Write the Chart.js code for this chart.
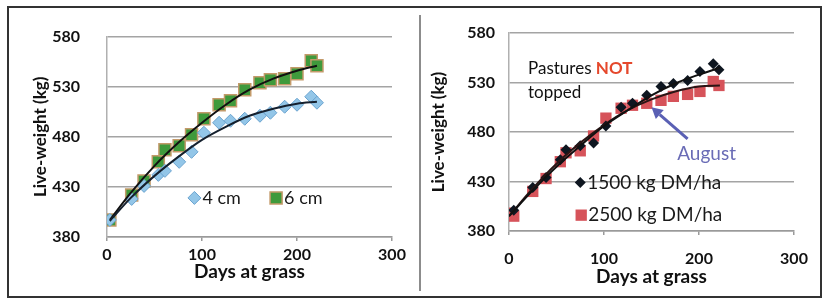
<!DOCTYPE html>
<html><head><meta charset="utf-8">
<script src="https://cdn.jsdelivr.net/npm/chart.js@4.4.1/dist/chart.umd.min.js"></script>
<style>
html,body{margin:0;padding:0;background:#fff;width:831px;height:305px;overflow:hidden;font-family:Lato,sans-serif}
#frame{position:absolute;left:7px;top:6px;width:811px;height:288px;border:2px solid #333;}
#divider{position:absolute;left:419px;top:15px;width:2px;height:276px;background:#8c8c8c;}
#c1{position:absolute;left:0;top:0}
#c2{position:absolute;left:418px;top:0}
</style></head><body>
<div id="frame"></div><div id="divider"></div>
<canvas id="c1" width="418" height="305"></canvas>
<canvas id="c2" width="413" height="305"></canvas>
<script>
// ---- Left chart data (sward height) ----
const daysLeft = [3, 26, 39, 54, 61, 76, 89, 102, 118, 130, 145, 161, 172, 187, 200, 215, 221];
const weight4cm = [397, 418, 431, 442, 446, 455, 465, 484, 494, 496, 498, 501, 504, 510, 512, 520, 514];
const weight6cm = [397, 422, 436, 455, 467, 471, 482, 498, 512, 516, 527, 534, 537, 538, 543, 556, 551];
const trendDaysLeft = [3, 25, 50, 75, 100, 125, 150, 175, 200, 221];
const trend4cm = [396, 419, 441, 460, 477, 490, 501, 508, 513, 515];
const trend6cm = [397, 424, 451, 474, 494, 512, 527, 538, 546, 551];
const labelsLeft = ["4 cm", "6 cm"];

// ---- Right chart data (pre-grazing cover) ----
const days1500 = [5, 25, 39, 54, 60, 75, 89, 102, 118, 130, 145, 160, 173, 188, 201, 215, 221];
const weight1500 = [401, 424, 434, 452, 462, 466, 469, 486, 505, 509, 517, 526, 529, 532, 541, 549, 543];
const days2500 = [0, 5, 25, 39, 54, 60, 75, 89, 102, 118, 130, 145, 160, 173, 188, 201, 215, 221];
const weight2500 = [398, 395, 420, 433, 450, 459, 461, 476, 494, 504, 507, 509, 512, 516, 518, 521, 531, 527];
const trendDaysRight = [0, 25, 50, 75, 100, 125, 150, 175, 200, 222];
const trend1500 = [395, 421, 445, 466, 486, 502, 517, 529, 538, 545];
const trend2500 = [395, 423, 448, 469, 487, 502, 513, 521, 526, 527];
const labelsRight = ["1500 kg DM/ha", "2500 kg DM/ha"];

// ---- Axes ----
const xTicks = [0, 100, 200, 300];
const yTicks = [380, 430, 480, 530, 580];
const xTitle = "Days at grass";
const yTitle = "Live-weight (kg)";

const pts = (xs, ys) => xs.map((x, i) => ({x, y: ys[i]}));

function shape(ctx, style, x, y, r, fill, stroke, bw) {
  ctx.save();
  ctx.beginPath();
  if (style === 'rectRot') {
    ctx.moveTo(x, y - r); ctx.lineTo(x + r, y); ctx.lineTo(x, y + r); ctx.lineTo(x - r, y); ctx.closePath();
  } else {
    const s = r * Math.SQRT1_2;
    ctx.rect(x - s, y - s, 2 * s, 2 * s);
  }
  ctx.fillStyle = fill; ctx.fill();
  if (bw) { ctx.lineWidth = bw; ctx.strokeStyle = stroke; ctx.stroke(); }
  ctx.restore();
}

function annotPlugin(cfg) {
  return {
    id: 'annot',
    afterDatasetsDraw(chart) {
      const ctx = chart.ctx, xs = chart.scales.x, ys = chart.scales.y;
      ctx.save();
      (cfg.legend || []).forEach(it => {
        const ds = chart.data.datasets[it.ds];
        const px = xs.getPixelForValue(it.x), py = ys.getPixelForValue(it.y);
        shape(ctx, ds.pointStyle, px, py, ds.pointRadius, ds.backgroundColor, ds.borderColor, ds.borderWidth);
        ctx.font = it.font; ctx.fillStyle = '#1a1a1a'; ctx.textAlign = 'left'; ctx.textBaseline = 'middle';
        ctx.fillText(it.label, px + it.gap, py);
      });
      (cfg.texts || []).forEach(t => {
        let px = xs.getPixelForValue(t.x); const py = ys.getPixelForValue(t.y);
        ctx.textBaseline = 'middle'; ctx.textAlign = t.align || 'left';
        t.parts.forEach(p => {
          ctx.font = p.font; ctx.fillStyle = p.color;
          ctx.fillText(p.text, px, py);
          px += ctx.measureText(p.text).width;
        });
      });
      (cfg.arrows || []).forEach(a => {
        const x1 = xs.getPixelForValue(a.from[0]), y1 = ys.getPixelForValue(a.from[1]);
        const x2 = xs.getPixelForValue(a.to[0]), y2 = ys.getPixelForValue(a.to[1]);
        const ang = Math.atan2(y2 - y1, x2 - x1), hl = 11, hw = 6;
        const bx = x2 - hl * Math.cos(ang), by = y2 - hl * Math.sin(ang);
        ctx.strokeStyle = a.color; ctx.fillStyle = a.color; ctx.lineWidth = 3;
        ctx.beginPath(); ctx.moveTo(x1, y1); ctx.lineTo(bx, by); ctx.stroke();
        ctx.beginPath(); ctx.moveTo(x2, y2);
        ctx.lineTo(bx + hw * Math.sin(ang), by - hw * Math.cos(ang));
        ctx.lineTo(bx - hw * Math.sin(ang), by + hw * Math.cos(ang));
        ctx.closePath(); ctx.fill();
      });
      ctx.restore();
    }
  };
}

const tickFont = {family: 'Lato', size: 16, weight: 'bold'};
const xTitleFont = {family: 'Lato', size: 19, weight: 'bold'};
const yTitleFont = {family: 'Lato', size: 17, weight: 'bold'};

function makeScales(o) {
  return {
    x: {
      type: 'linear', min: 0, max: 300,
      afterBuildTicks: s => { s.ticks = xTicks.map(v => ({value: v})); },
      afterFit: s => { s.height = o.xH; },
      ticks: {font: tickFont, color: '#111', padding: o.xPad, maxRotation: 0},
      grid: {drawOnChartArea: false, drawTicks: true, tickLength: 4, color: '#9a9a9a', lineWidth: 1.5},
      border: {color: '#9a9a9a', width: 1.5},
      title: {display: true, text: xTitle, font: xTitleFont, color: '#111', padding: {top: 0, bottom: o.xTitlePad}}
    },
    y: {
      type: 'linear', min: 380, max: 580,
      afterBuildTicks: s => { s.ticks = yTicks.map(v => ({value: v})); },
      afterFit: s => { s.width = o.yW; },
      ticks: {font: tickFont, color: '#111', padding: o.yPad},
      grid: {drawTicks: false, color: '#a4a4a4', lineWidth: 1.5},
      border: {color: '#b0b0b0', width: 1.5},
      title: {display: true, text: yTitle, font: yTitleFont, color: '#111', padding: {top: o.yTitlePad, bottom: 0}}
    }
  };
}

const common = {
  responsive: false, animation: false, devicePixelRatio: 1,
  plugins: {legend: {display: false}, tooltip: {enabled: false}}
};

// Left chart
new Chart(document.getElementById('c1'), {
  type: 'scatter',
  data: {datasets: [
    {type: 'line', data: pts(trendDaysLeft, trend4cm), borderColor: '#15202e', borderWidth: 2, pointRadius: 0, fill: false, cubicInterpolationMode: 'monotone'},
    {type: 'line', data: pts(trendDaysLeft, trend6cm), borderColor: '#111', borderWidth: 2, pointRadius: 0, fill: false, cubicInterpolationMode: 'monotone'},
    {label: labelsLeft[0], data: pts(daysLeft, weight4cm), pointStyle: 'rectRot', pointRadius: 6.5, backgroundColor: '#93c6e8', borderColor: '#6aa3cf', borderWidth: 1},
    {label: labelsLeft[1], data: pts(daysLeft, weight6cm), pointStyle: 'rect', pointRadius: 8.5, backgroundColor: '#3f9a3c', borderColor: '#c39a6a', borderWidth: 1.5}
  ]},
  options: Object.assign({}, common, {
    layout: {padding: {left: 20, right: 26, top: 30, bottom: 14}},
    scales: makeScales({xH: 54, xPad: 4, xTitlePad: 7.5, yW: 87, yPad: 27, yTitlePad: 10.8})
  }),
  plugins: [annotPlugin({
    legend: [
      {ds: 2, x: 92, y: 419, label: labelsLeft[0], gap: 8, font: '18px Lato'},
      {ds: 3, x: 178, y: 419, label: labelsLeft[1], gap: 8, font: '18px Lato'}
    ]
  })]
});

// Right chart
new Chart(document.getElementById('c2'), {
  type: 'scatter',
  data: {datasets: [
    {type: 'line', data: pts(trendDaysRight, trend1500), borderColor: '#111', borderWidth: 2, pointRadius: 0, fill: false, cubicInterpolationMode: 'monotone'},
    {type: 'line', data: pts(trendDaysRight, trend2500), borderColor: '#2a1515', borderWidth: 2, pointRadius: 0, fill: false, cubicInterpolationMode: 'monotone'},
    {label: labelsRight[0], data: pts(days1500, weight1500), pointStyle: 'rectRot', pointRadius: 5.5, backgroundColor: '#0e1620', borderColor: '#0e1620', borderWidth: 0},
    {label: labelsRight[1], data: pts(days2500, weight2500), pointStyle: 'rect', pointRadius: 8, backgroundColor: '#d6535a', borderColor: '#d6535a', borderWidth: 0}
  ]},
  options: Object.assign({}, common, {
    layout: {padding: {left: 10, right: 37, top: 33, bottom: 8}},
    scales: makeScales({xH: 66, xPad: 14, xTitlePad: 8.6, yW: 81, yPad: 14, yTitlePad: 0.8})
  }),
  plugins: [annotPlugin({
    legend: [
      {ds: 2, x: 75, y: 429, label: labelsRight[0], gap: 7, font: '19px Lato'},
      {ds: 3, x: 76, y: 396, label: labelsRight[1], gap: 7, font: '19px Lato'}
    ],
    texts: [
      {x: 20, y: 544, parts: [{text: 'Pastures ', font: '17px Lato', color: '#111'}, {text: 'NOT', font: 'bold 17px Lato', color: '#e5482c'}]},
      {x: 20, y: 519.5, parts: [{text: 'topped', font: '17px Lato', color: '#111'}]},
      {x: 208, y: 458, align: 'center', parts: [{text: 'August', font: '19px Lato', color: '#6a6cb6'}]}
    ],
    arrows: [{from: [188, 473], to: [150, 505], color: '#5a60b4'}]
  })]
});
</script>
</body></html>
